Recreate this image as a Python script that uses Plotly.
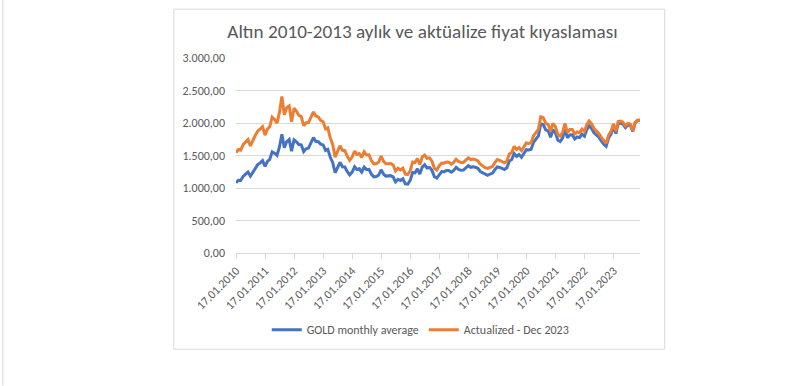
import pandas as pd
import plotly.graph_objects as go

# ---- data ----
start_date = "2010-01-17"
n_months = 168

gold_monthly = [
    1081.8, 1118.9, 1115.5, 1179.3, 1212.7, 1245.5, 1181.7, 1248.3, 1308.3, 1359.4, 1386.1, 1421.4,
    1332.8, 1409.3, 1439.0, 1556.0, 1536.6, 1502.3, 1628.3, 1825.0, 1620.4, 1714.8, 1746.4, 1566.8,
    1740.1, 1711.3, 1669.3, 1664.1, 1560.4, 1604.2, 1614.1, 1687.6, 1776.1, 1719.1, 1712.7, 1675.8,
    1663.4, 1578.1, 1595.7, 1472.1, 1393.0, 1234.5, 1312.4, 1395.8, 1326.5, 1323.6, 1250.7, 1201.9,
    1244.8, 1326.5, 1283.8, 1295.9, 1246.0, 1322.0, 1282.5, 1287.4, 1210.5, 1171.1, 1175.2, 1199.3,
    1279.2, 1212.6, 1183.1, 1184.1, 1190.1, 1171.8, 1095.4, 1134.6, 1114.8, 1141.6, 1064.2, 1060.3,
    1116.4, 1237.9, 1232.7, 1293.9, 1214.3, 1321.5, 1357.0, 1308.0, 1316.6, 1271.4, 1173.9, 1152.0,
    1212.6, 1253.2, 1251.3, 1268.6, 1269.3, 1242.3, 1269.8, 1316.0, 1284.8, 1271.7, 1275.0, 1309.3,
    1343.1, 1318.6, 1327.3, 1319.2, 1303.6, 1254.5, 1232.5, 1206.7, 1196.2, 1215.0, 1226.0, 1282.5,
    1325.2, 1316.1, 1298.5, 1285.7, 1311.1, 1413.7, 1437.8, 1529.4, 1485.3, 1514.8, 1473.2, 1523.1,
    1589.2, 1585.7, 1596.6, 1702.8, 1751.7, 1800.5, 1985.9, 1975.9, 1895.5, 1879.9, 1780.9, 1895.1,
    1850.3, 1733.6, 1715.6, 1769.1, 1905.3, 1771.6, 1817.2, 1818.1, 1755.3, 1784.9, 1776.5, 1829.2,
    1797.0, 1900.7, 1954.0, 1915.1, 1848.4, 1817.0, 1781.8, 1726.2, 1672.0, 1640.7, 1768.8, 1826.2,
    1945.6, 1836.7, 1986.2, 1999.1, 1982.1, 1929.4, 1970.5, 1965.9, 1870.0, 2001.2, 2040.0, 2042.0,
]

actualized_dec2023 = [
    1547.0, 1593.3, 1581.8, 1666.3, 1706.3, 1744.9, 1648.5, 1733.9, 1810.7, 1873.3, 1901.7, 1941.6,
    1812.6, 1908.2, 1941.2, 2089.7, 2054.4, 1999.6, 2159.1, 2409.0, 2126.0, 2236.1, 2263.3, 2018.0,
    2227.3, 2180.2, 2116.7, 2098.4, 1958.3, 2003.6, 2006.3, 2085.9, 2170.0, 2107.6, 2092.9, 2041.1,
    2019.4, 1909.5, 1924.4, 1770.9, 1670.2, 1475.2, 1567.0, 1650.0, 1579.9, 1573.8, 1485.8, 1425.4,
    1475.1, 1569.2, 1517.4, 1530.5, 1470.3, 1557.3, 1508.2, 1511.4, 1418.7, 1371.4, 1373.8, 1399.6,
    1490.3, 1410.3, 1373.6, 1372.4, 1376.9, 1353.4, 1261.9, 1303.7, 1277.6, 1304.8, 1213.2, 1205.6,
    1266.0, 1400.1, 1390.5, 1454.3, 1361.2, 1477.4, 1505.0, 1457.1, 1464.1, 1412.5, 1303.0, 1276.4,
    1342.3, 1384.8, 1381.4, 1399.3, 1397.5, 1366.5, 1394.2, 1443.7, 1408.1, 1391.2, 1393.6, 1428.4,
    1464.0, 1437.3, 1445.4, 1436.6, 1418.3, 1364.9, 1339.7, 1311.7, 1300.3, 1319.5, 1331.4, 1391.5,
    1437.8, 1425.3, 1405.0, 1388.6, 1413.4, 1522.6, 1545.6, 1641.0, 1592.2, 1620.8, 1573.4, 1625.2,
    1692.5, 1685.6, 1695.6, 1805.0, 1853.3, 1903.1, 2095.1, 2082.6, 1996.0, 1979.5, 1873.5, 1991.7,
    1942.8, 1820.3, 1799.7, 1854.0, 1994.8, 1853.1, 1900.8, 1899.9, 1832.5, 1861.7, 1851.1, 1906.0,
    1870.7, 1976.7, 2030.2, 1986.0, 1914.9, 1878.8, 1840.6, 1779.7, 1722.2, 1686.6, 1814.8, 1870.0,
    1988.4, 1873.4, 2021.9, 2031.1, 2011.8, 1954.5, 1992.2, 1983.6, 1881.2, 2009.2, 2044.0, 2042.0,
]

tick_years = list(range(2010, 2024))
tick_labels = [f"17.01.{y}" for y in tick_years]
y_ticks = [0, 500, 1000, 1500, 2000, 2500, 3000]

series_names = ["GOLD monthly average", "Actualized - Dec 2023"]
series_colors = ["#4472C4", "#ED7D31"]

dates = pd.date_range(start_date, periods=n_months, freq=pd.DateOffset(months=1))
tick_dates = [pd.Timestamp(f"{y}-01-17") for y in tick_years]

# ---- layout geometry (pixels) ----
W, H = 805, 386
L, R = 235.7, 639.8          # plot area left/right
T, B = 58.3, 253.3           # plot area top/bottom
pw, ph = R - L, B - T

def px_x(x):
    return (x - L) / pw

def px_y(y):
    return (B - y) / ph

FONT = "Calibri, Carlito, Lato, sans-serif"
GREY = "#595959"

fig = go.Figure()
for name, vals, col in zip(series_names, [gold_monthly, actualized_dec2023], series_colors):
    fig.add_trace(go.Scatter(
        x=dates, y=vals, mode="lines", name=name,
        line=dict(color=col, width=3),
    ))

fig.update_layout(
    width=W, height=H,
    margin=dict(l=L, r=W - R, t=T, b=H - B, pad=0),
    paper_bgcolor="white", plot_bgcolor="white",
    separators=",.",
    font=dict(family=FONT, color=GREY, size=12),
    title=dict(
        text="Altın 2010-2013 aylık ve aktüalize fiyat kıyaslaması",
        x=422.5 / W, xanchor="center", xref="container",
        y=1 - 31 / H, yanchor="middle", yref="container",
        font=dict(family=FONT, size=19.2, color=GREY),
    ),
    showlegend=True,
    legend=dict(
        orientation="h", x=px_x(420), xanchor="center",
        y=px_y(330), yanchor="middle",
        font=dict(family=FONT, size=12, color=GREY),
        bgcolor="rgba(0,0,0,0)", itemwidth=30, tracegroupgap=0,
    ),
    xaxis=dict(
        type="date",
        range=[dates[0], dates[-1]],
        tickvals=tick_dates, ticktext=tick_labels,
        tickangle=-45,
        showgrid=False, zeroline=False,
        showline=True, linecolor="#d9d9d9", linewidth=1,
        ticks="outside", ticklen=5, tickcolor="#d9d9d9", tickwidth=1,
        tickfont=dict(family=FONT, size=12, color=GREY),
    ),
    yaxis=dict(
        range=[0, 3000],
        tickvals=y_ticks, tickformat=",.2f",
        showgrid=True, gridcolor="#d9d9d9", gridwidth=1,
        zeroline=False, showline=False, ticks="",
        ticklabelstandoff=10,
        tickfont=dict(family=FONT, size=12, color=GREY),
    ),
    shapes=[
        dict(type="rect", xref="paper", yref="paper",
             x0=px_x(173.5), x1=px_x(664.5), y0=px_y(349.5), y1=px_y(9.5),
             line=dict(color="#d9d9d9", width=1), fillcolor="rgba(0,0,0,0)", layer="below"),
        dict(type="line", xref="paper", yref="paper",
             x0=px_x(2.5), x1=px_x(2.5), y0=px_y(H), y1=px_y(0),
             line=dict(color="#d4d4d4", width=1)),
    ],
)

fig.write_html(
    "out.html",
    config={"displayModeBar": False},
    post_script="document.body.style.margin='0';document.body.style.padding='0';",
)
